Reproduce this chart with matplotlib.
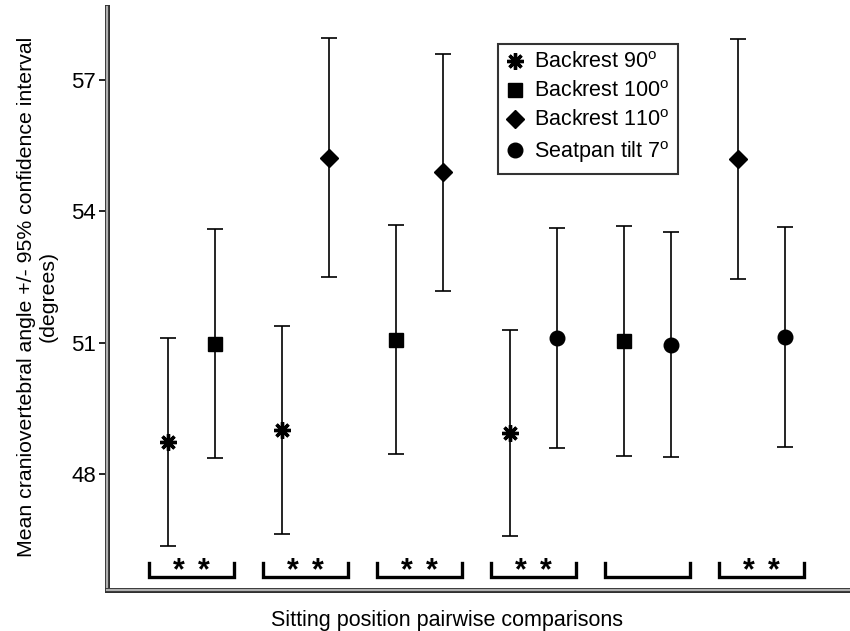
import matplotlib
matplotlib.use('Agg')
from matplotlib import pyplot as plt
from matplotlib import patheffects as pe
from matplotlib.lines import Line2D
import numpy as np

# series and pairwise comparison data
series_names = ['Backrest 90$^\\mathrm{o}$', 'Backrest 100$^\\mathrm{o}$',
                'Backrest 110$^\\mathrm{o}$', 'Seatpan tilt 7$^\\mathrm{o}$']
series_markers = [(8, 2, 0), 's', 'D', 'o']

pair_left = [0, 0, 1, 0, 1, 2]
pair_right = [1, 2, 2, 3, 3, 3]
left_mean = [48.73, 49.00, 51.07, 48.94, 51.04, 55.20]
left_ci = [2.38, 2.37, 2.62, 2.36, 2.62, 2.74]
right_mean = [50.98, 55.23, 54.89, 51.10, 50.95, 51.13]
right_ci = [2.62, 2.73, 2.71, 2.51, 2.57, 2.51]
significant = [True, True, True, True, False, True]

yticks = [48, 51, 54, 57]

plt.rcParams['font.family'] = ['Liberation Sans', 'DejaVu Sans']
plt.rcParams['mathtext.fontset'] = 'custom'
plt.rcParams['mathtext.rm'] = 'Liberation Sans'

fig = plt.figure(figsize=(8.5, 6.31), dpi=100)
ax = fig.add_axes([0.1259, 0.065, 0.8741, 0.924])

msize = {0: 12, 1: 9.5, 2: 9, 3: 10.5}
mew = {0: 2.4, 1: 1, 2: 1, 3: 1}


def draw_point(x, m, ci, s):
    ax.errorbar(x, m, yerr=ci, fmt='none', ecolor='black', elinewidth=1.2,
                capsize=6, capthick=1.2, zorder=2)
    ax.plot(x, m, marker=series_markers[s], markersize=msize[s],
            markeredgewidth=mew[s], color='black', linestyle='none', zorder=3)


offset = 0.206
for i in range(len(pair_left)):
    c = i + 1
    draw_point(c - offset, left_mean[i], left_ci[i], pair_left[i])
    draw_point(c + offset, right_mean[i], right_ci[i], pair_right[i])

    # comparison bracket
    ax.plot([c - 0.37, c - 0.37, c + 0.37, c + 0.37],
            [45.97, 45.65, 45.65, 45.97], color='black', lw=2.4,
            solid_joinstyle='miter', zorder=2)
    if significant[i]:
        for dx in (-0.11, 0.11):
            ax.text(c + dx, 45.60, '*', ha='center', va='baseline',
                    fontsize=22, fontweight='bold')

ax.set_xlim(0.259, 6.776)
ax.set_ylim(45.35, 58.67)
ax.set_xticks([])
ax.set_yticks(yticks)
ax.set_yticklabels([str(t) for t in yticks])
ax.tick_params(axis='y', direction='out', length=6, width=1.2,
               labelsize=16, pad=2)

for side in ('top', 'right'):
    ax.spines[side].set_visible(False)
for side in ('left', 'bottom'):
    sp = ax.spines[side]
    sp.set_linewidth(1.6)
    sp.set_color('#b0b0b0')
    sp.set_path_effects([pe.Stroke(linewidth=3.6, foreground='#303030'),
                         pe.Normal()])

ax.set_ylabel('Mean craniovertebral angle +/- 95% confidence interval\n(degrees)',
              fontsize=15.3, linespacing=1.2)
ax.yaxis.set_label_coords(-0.066, 0.503)
ax.set_xlabel('Sitting position pairwise comparisons', fontsize=15.5)
ax.xaxis.set_label_coords(0.458, -0.035)

handles = [Line2D([], [], marker=series_markers[s], markersize=msize[s],
                  markeredgewidth=mew[s], color='black', linestyle='none')
           for s in range(4)]
leg = ax.legend(handles, series_names, loc='upper left',
                bbox_to_anchor=(0.526, 0.937), fontsize=15.5, frameon=True,
                fancybox=False, handlelength=0.8, handletextpad=0.5,
                borderpad=0.4, labelspacing=0.37, borderaxespad=0)
leg.get_frame().set_edgecolor('black')
leg.get_frame().set_linewidth(1.5)

fig.savefig('out.png', dpi=100)
